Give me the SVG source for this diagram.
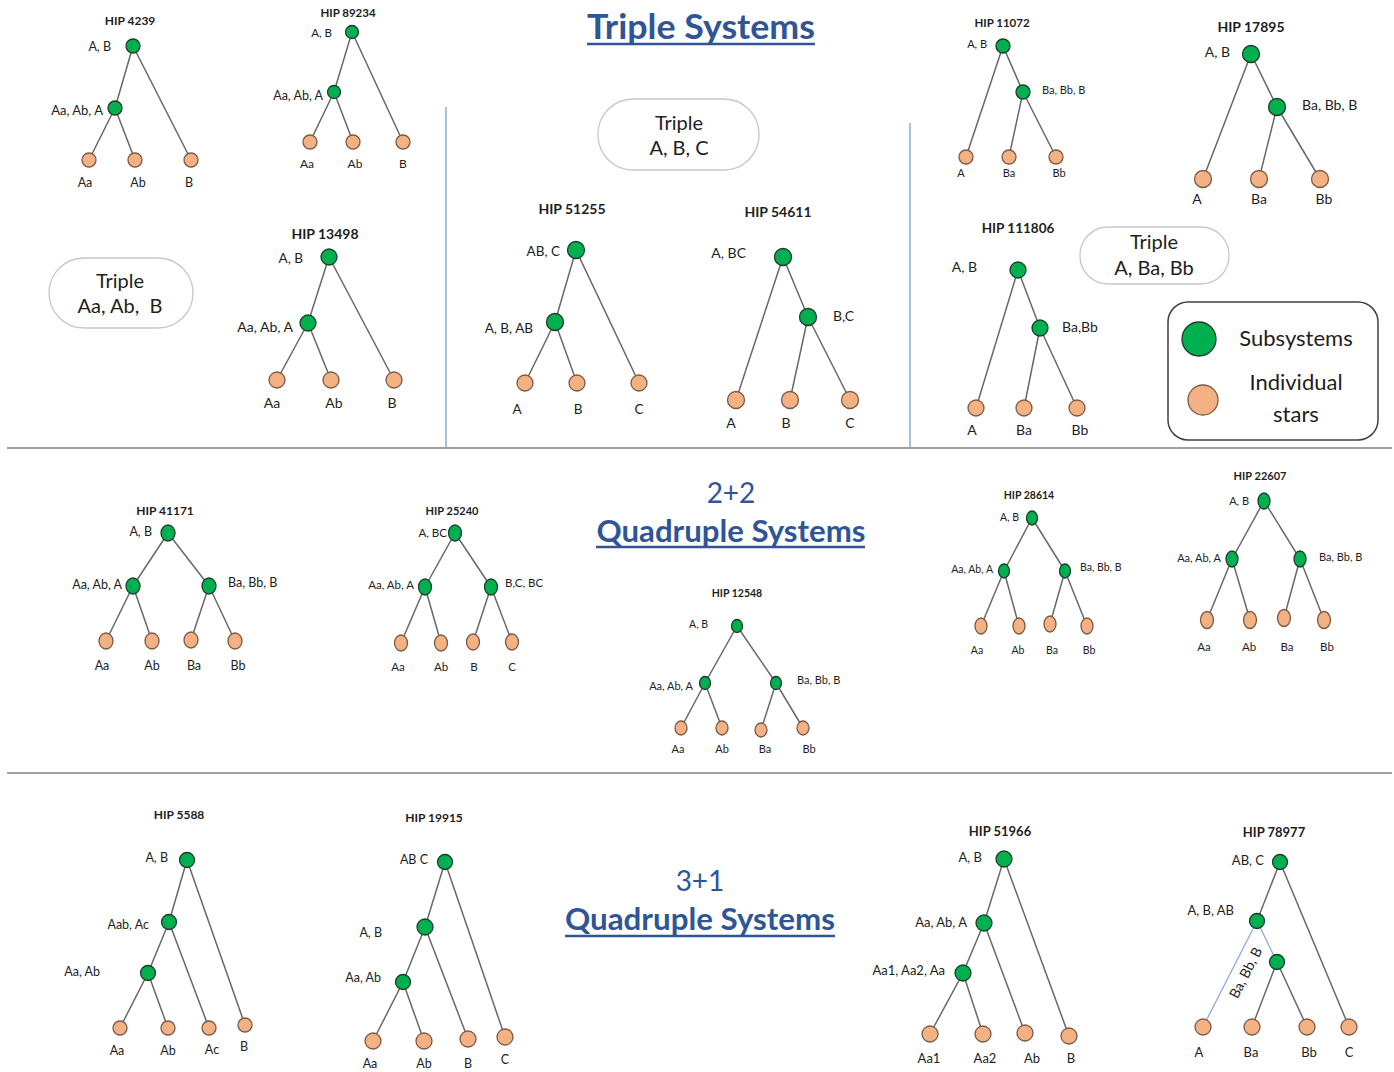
<svg xmlns="http://www.w3.org/2000/svg" width="1394" height="1072" viewBox="0 0 1394 1072">
<style>
text{font-family:Lato,"Liberation Sans",sans-serif;fill:#1e1e1e}
.h{font-weight:bold}
.e{text-anchor:end}
.m{text-anchor:middle}
.ln{stroke:#686868;stroke-width:1.5;fill:none}
.lb{stroke:#8faadc;stroke-width:1.3;fill:none}
.g{fill:#00b050;stroke:#1e3d28;stroke-width:1.3}
.o{fill:#f4b183;stroke:#7a5a46;stroke-width:1.3}
.box{fill:#fff;stroke:#c8c8c8;stroke-width:1.3}
.ttl{fill:#2f5597}
.sep{stroke:#7f7f7f;stroke-width:1.5}
.vs{stroke:#8faadc;stroke-width:1.5}
</style>
<rect width="1394" height="1072" fill="#fff"/>

<g id="frame">
<line class="sep" x1="7" y1="448" x2="1392" y2="448"/>
<line class="sep" x1="7" y1="773" x2="1392" y2="773"/>
<line class="vs" x1="446" y1="107" x2="446" y2="447"/>
<line class="vs" x1="910" y1="123" x2="910" y2="447"/>
</g>

<g id="titles">
<text class="h m ttl" x="701" y="39" font-size="35" textLength="228" lengthAdjust="spacingAndGlyphs">Triple Systems</text>
<line x1="587" y1="44" x2="815" y2="44" stroke="#2f5597" stroke-width="2.5"/>
<text class="m ttl" x="731" y="503" font-size="28">2+2</text>
<text class="h m ttl" x="731" y="542" font-size="30" textLength="269" lengthAdjust="spacingAndGlyphs">Quadruple Systems</text>
<line x1="596" y1="547" x2="865" y2="547" stroke="#2f5597" stroke-width="2.5"/>
<text class="m ttl" x="700" y="891" font-size="28">3+1</text>
<text class="h m ttl" x="700" y="930" font-size="30" textLength="270" lengthAdjust="spacingAndGlyphs">Quadruple Systems</text>
<line x1="565" y1="936" x2="835" y2="936" stroke="#2f5597" stroke-width="2.5"/>
</g>

<g id="triple-boxes">
<g id="box-aaabb"><rect class="box" x="49" y="258" width="144" height="70" rx="35"/>
<text class="m" x="120" y="288" font-size="20">Triple</text>
<text class="m" x="120" y="313" font-size="20" style="white-space:pre">Aa, Ab,  B</text></g>
<g id="box-abc"><rect class="box" x="598" y="99" width="161" height="71" rx="35"/>
<text class="m" x="679" y="130" font-size="20">Triple</text>
<text class="m" x="679" y="155" font-size="20">A, B, C</text></g>
<g id="box-abaab"><rect class="box" x="1080" y="227" width="149" height="57" rx="28"/>
<text class="m" x="1154" y="249" font-size="20">Triple</text>
<text class="m" x="1154" y="275" font-size="20">A, Ba, Bb</text></g>
</g>

<g id="legend">
<rect x="1168" y="302" width="210" height="138" rx="20" fill="#fff" stroke="#404040" stroke-width="1.5"/>
<circle class="g" cx="1199" cy="339" r="17"/>
<text class="m" x="1296" y="346" font-size="22">Subsystems</text>
<circle class="o" cx="1203" cy="400" r="15"/>
<text class="m" x="1296" y="390" font-size="22">Individual</text>
<text class="m" x="1296" y="422" font-size="22">stars</text>
</g>

<g id="connectors">
<path class="ln" d="M133 46L115 108M133 46L191 160M115 108L89 160M115 108L135 160"/>
<path class="ln" d="M352 32L334 92M352 32L403 142M334 92L310 142M334 92L353 142"/>
<path class="ln" d="M329 257L308 323M329 257L394 380M308 323L277 380M308 323L331 380"/>
<path class="ln" d="M576 250L555 322M576 250L639 383M555 322L525 383M555 322L577 383"/>
<path class="ln" d="M783 257L736 400M783 257L808 317M808 317L790 400M808 317L850 400"/>
<path class="ln" d="M1003 46L966 157M1003 46L1023 92M1023 92L1009 157M1023 92L1056 157"/>
<path class="ln" d="M1251 54L1203 179M1251 54L1277 107M1277 107L1259 179M1277 107L1320 179"/>
<path class="ln" d="M1018 270L976 408M1018 270L1040 328M1040 328L1024 408M1040 328L1077 408"/>
<path class="ln" d="M168 533L133 586M168 533L209 586M133 586L106 641M133 586L152 641M209 586L191 640M209 586L235 641"/>
<path class="ln" d="M455 533L425 587M455 533L491 587M425 587L401 643M425 587L441 643M491 587L473 642M491 587L512 642"/>
<path class="ln" d="M737 626L705 683M737 626L776 683M705 683L681 728M705 683L722 728M776 683L761 730M776 683L803 728"/>
<path class="ln" d="M1032 518L1004 571M1032 518L1065 571M1004 571L981 626M1004 571L1019 626M1065 571L1050 624M1065 571L1087 626"/>
<path class="ln" d="M1264 501L1232 559M1264 501L1300 559M1232 559L1207 620M1232 559L1250 620M1300 559L1284 618M1300 559L1324 620"/>
<path class="ln" d="M187 860L169 922M187 860L245 1025M169 922L148 973M169 922L209 1028M148 973L120 1028M148 973L168 1028"/>
<path class="ln" d="M445 862L425 927M445 862L505 1037M425 927L403 982M425 927L468 1039M403 982L373 1041M403 982L424 1041"/>
<path class="ln" d="M1004 859L984 923M1004 859L1069 1036M984 923L963 973M984 923L1025 1033M963 973L930 1034M963 973L983 1034"/>
<path class="ln" d="M1280 862L1257 921M1280 862L1349 1027M1277 962L1252 1027M1277 962L1307 1027"/>
<path class="lb" d="M1257 921L1203 1027M1257 921L1277 962"/>
</g>

<g id="hip4239">
<text class="h m" x="130" y="25" font-size="12">HIP 4239</text>
<g id="hip4239-ab"><circle class="g" cx="133" cy="46" r="7"/><text class="e" x="111" y="51" font-size="12.5">A, B</text></g>
<g id="hip4239-a"><circle class="g" cx="115" cy="108" r="7"/><text class="e" x="103" y="115" font-size="13">Aa, Ab, A</text></g>
<g id="hip4239-aa"><circle class="o" cx="89" cy="160" r="7"/><text class="m" x="85" y="187" font-size="12.5">Aa</text></g>
<g id="hip4239-ab2"><circle class="o" cx="135" cy="160" r="7"/><text class="m" x="138" y="187" font-size="12.5">Ab</text></g>
<g id="hip4239-b"><circle class="o" cx="191" cy="160" r="7"/><text class="m" x="189" y="187" font-size="12.5">B</text></g>
</g>

<g id="hip89234">
<text class="h m" x="348" y="17" font-size="11.5">HIP 89234</text>
<g id="hip89234-ab"><circle class="g" cx="352" cy="32" r="6.5"/><text class="e" x="332" y="37" font-size="11.5">A, B</text></g>
<g id="hip89234-a"><circle class="g" cx="334" cy="92" r="6.5"/><text class="e" x="323" y="100" font-size="12.5">Aa, Ab, A</text></g>
<g id="hip89234-aa"><circle class="o" cx="310" cy="142" r="7"/><text class="m" x="307" y="168" font-size="12">Aa</text></g>
<g id="hip89234-ab2"><circle class="o" cx="353" cy="142" r="7"/><text class="m" x="355" y="168" font-size="12">Ab</text></g>
<g id="hip89234-b"><circle class="o" cx="403" cy="142" r="7"/><text class="m" x="403" y="168" font-size="12">B</text></g>
</g>

<g id="hip13498">
<text class="h m" x="325" y="239" font-size="14">HIP 13498</text>
<g id="hip13498-ab"><circle class="g" cx="329" cy="257" r="8"/><text class="e" x="303" y="263" font-size="13.5">A, B</text></g>
<g id="hip13498-a"><circle class="g" cx="308" cy="323" r="8"/><text class="e" x="293" y="332" font-size="14">Aa, Ab, A</text></g>
<g id="hip13498-aa"><circle class="o" cx="277" cy="380" r="8"/><text class="m" x="272" y="408" font-size="14">Aa</text></g>
<g id="hip13498-ab2"><circle class="o" cx="331" cy="380" r="8"/><text class="m" x="334" y="408" font-size="14">Ab</text></g>
<g id="hip13498-b"><circle class="o" cx="394" cy="380" r="8"/><text class="m" x="392" y="408" font-size="14">B</text></g>
</g>

<g id="hip51255">
<text class="h m" x="572" y="214" font-size="14">HIP 51255</text>
<g id="hip51255-abc"><circle class="g" cx="576" cy="250" r="8.5"/><text class="e" x="560" y="256" font-size="13.5">AB, C</text></g>
<g id="hip51255-ab"><circle class="g" cx="555" cy="322" r="8.5"/><text class="e" x="533" y="333" font-size="13.5">A, B, AB</text></g>
<g id="hip51255-a"><circle class="o" cx="525" cy="383" r="8"/><text class="m" x="517" y="414" font-size="13.5">A</text></g>
<g id="hip51255-b"><circle class="o" cx="577" cy="383" r="8"/><text class="m" x="578" y="414" font-size="13.5">B</text></g>
<g id="hip51255-c"><circle class="o" cx="639" cy="383" r="8"/><text class="m" x="639" y="414" font-size="13.5">C</text></g>
</g>

<g id="hip54611">
<text class="h m" x="778" y="217" font-size="14">HIP 54611</text>
<g id="hip54611-abc"><circle class="g" cx="783" cy="257" r="8.5"/><text class="e" x="746" y="258" font-size="14">A, BC</text></g>
<g id="hip54611-bc"><circle class="g" cx="808" cy="317" r="8.5"/><text x="833" y="321" font-size="14">B,C</text></g>
<g id="hip54611-a"><circle class="o" cx="736" cy="400" r="8.5"/><text class="m" x="731" y="428" font-size="14">A</text></g>
<g id="hip54611-b"><circle class="o" cx="790" cy="400" r="8.5"/><text class="m" x="786" y="428" font-size="14">B</text></g>
<g id="hip54611-c"><circle class="o" cx="850" cy="400" r="8.5"/><text class="m" x="850" y="428" font-size="14">C</text></g>
</g>

<g id="hip11072">
<text class="h m" x="1002" y="27" font-size="11.5">HIP 11072</text>
<g id="hip11072-ab"><circle class="g" cx="1003" cy="46" r="7"/><text class="e" x="987" y="48" font-size="11">A, B</text></g>
<g id="hip11072-b"><circle class="g" cx="1023" cy="92" r="7"/><text x="1042" y="94" font-size="11">Ba, Bb, B</text></g>
<g id="hip11072-a"><circle class="o" cx="966" cy="157" r="7"/><text class="m" x="961" y="177" font-size="11">A</text></g>
<g id="hip11072-ba"><circle class="o" cx="1009" cy="157" r="7"/><text class="m" x="1009" y="177" font-size="11">Ba</text></g>
<g id="hip11072-bb"><circle class="o" cx="1056" cy="157" r="7"/><text class="m" x="1059" y="177" font-size="11">Bb</text></g>
</g>

<g id="hip17895">
<text class="h m" x="1251" y="32" font-size="14">HIP 17895</text>
<g id="hip17895-ab"><circle class="g" cx="1251" cy="54" r="8.5"/><text class="e" x="1230" y="57" font-size="14">A, B</text></g>
<g id="hip17895-b"><circle class="g" cx="1277" cy="107" r="8.5"/><text x="1302" y="110" font-size="14">Ba, Bb, B</text></g>
<g id="hip17895-a"><circle class="o" cx="1203" cy="179" r="8.5"/><text class="m" x="1197" y="204" font-size="14">A</text></g>
<g id="hip17895-ba"><circle class="o" cx="1259" cy="179" r="8.5"/><text class="m" x="1259" y="204" font-size="14">Ba</text></g>
<g id="hip17895-bb"><circle class="o" cx="1320" cy="179" r="8.5"/><text class="m" x="1324" y="204" font-size="14">Bb</text></g>
</g>

<g id="hip111806">
<text class="h m" x="1018" y="233" font-size="13.5">HIP 111806</text>
<g id="hip111806-ab"><circle class="g" cx="1018" cy="270" r="8"/><text class="e" x="977" y="272" font-size="14">A, B</text></g>
<g id="hip111806-b"><circle class="g" cx="1040" cy="328" r="8"/><text x="1062" y="332" font-size="14">Ba,Bb</text></g>
<g id="hip111806-a"><circle class="o" cx="976" cy="408" r="8"/><text class="m" x="972" y="435" font-size="14">A</text></g>
<g id="hip111806-ba"><circle class="o" cx="1024" cy="408" r="8"/><text class="m" x="1024" y="435" font-size="14">Ba</text></g>
<g id="hip111806-bb"><circle class="o" cx="1077" cy="408" r="8"/><text class="m" x="1080" y="435" font-size="14">Bb</text></g>
</g>

<g id="hip41171">
<text class="h m" x="165" y="515" font-size="12">HIP 41171</text>
<g id="hip41171-ab"><ellipse class="g" cx="168" cy="533" rx="7" ry="8"/><text class="e" x="152" y="536" font-size="12.5">A, B</text></g>
<g id="hip41171-a"><ellipse class="g" cx="133" cy="586" rx="7" ry="8"/><text class="e" x="122" y="589" font-size="12.5">Aa, Ab, A</text></g>
<g id="hip41171-b"><ellipse class="g" cx="209" cy="586" rx="7" ry="8"/><text x="228" y="587" font-size="12.5">Ba, Bb, B</text></g>
<g id="hip41171-aa"><ellipse class="o" cx="106" cy="641" rx="7" ry="8"/><text class="m" x="102" y="670" font-size="12.5">Aa</text></g>
<g id="hip41171-ab2"><ellipse class="o" cx="152" cy="641" rx="7" ry="8"/><text class="m" x="152" y="670" font-size="12.5">Ab</text></g>
<g id="hip41171-ba"><ellipse class="o" cx="191" cy="640" rx="7" ry="8"/><text class="m" x="194" y="670" font-size="12.5">Ba</text></g>
<g id="hip41171-bb"><ellipse class="o" cx="235" cy="641" rx="7" ry="8"/><text class="m" x="238" y="670" font-size="12.5">Bb</text></g>
</g>

<g id="hip25240">
<text class="h m" x="452" y="515" font-size="11">HIP 25240</text>
<g id="hip25240-abc"><ellipse class="g" cx="455" cy="533" rx="6.5" ry="8"/><text class="e" x="447" y="537" font-size="11.5">A, BC</text></g>
<g id="hip25240-a"><ellipse class="g" cx="425" cy="587" rx="6.5" ry="8"/><text class="e" x="414" y="589" font-size="11.5">Aa, Ab, A</text></g>
<g id="hip25240-bc"><ellipse class="g" cx="491" cy="587" rx="6.5" ry="8"/><text x="505" y="587" font-size="11.5">B,C, BC</text></g>
<g id="hip25240-aa"><ellipse class="o" cx="401" cy="643" rx="6.5" ry="8"/><text class="m" x="398" y="671" font-size="11.5">Aa</text></g>
<g id="hip25240-ab"><ellipse class="o" cx="441" cy="643" rx="6.5" ry="8"/><text class="m" x="441" y="671" font-size="11.5">Ab</text></g>
<g id="hip25240-b"><ellipse class="o" cx="473" cy="642" rx="6.5" ry="8"/><text class="m" x="474" y="671" font-size="11.5">B</text></g>
<g id="hip25240-c"><ellipse class="o" cx="512" cy="642" rx="6.5" ry="8"/><text class="m" x="512" y="671" font-size="11.5">C</text></g>
</g>

<g id="hip12548">
<text class="h m" x="737" y="597" font-size="10.5">HIP 12548</text>
<g id="hip12548-ab"><ellipse class="g" cx="737" cy="626" rx="5.5" ry="6.5"/><text class="e" x="708" y="628" font-size="10.5">A, B</text></g>
<g id="hip12548-a"><ellipse class="g" cx="705" cy="683" rx="5.5" ry="6.5"/><text class="e" x="693" y="690" font-size="11">Aa, Ab, A</text></g>
<g id="hip12548-b"><ellipse class="g" cx="776" cy="683" rx="5.5" ry="6.5"/><text x="797" y="684" font-size="11">Ba, Bb, B</text></g>
<g id="hip12548-aa"><ellipse class="o" cx="681" cy="728" rx="6" ry="7"/><text class="m" x="678" y="753" font-size="11">Aa</text></g>
<g id="hip12548-ab2"><ellipse class="o" cx="722" cy="728" rx="6" ry="7"/><text class="m" x="722" y="753" font-size="11">Ab</text></g>
<g id="hip12548-ba"><ellipse class="o" cx="761" cy="730" rx="6" ry="7"/><text class="m" x="765" y="753" font-size="11">Ba</text></g>
<g id="hip12548-bb"><ellipse class="o" cx="803" cy="728" rx="6" ry="7"/><text class="m" x="809" y="753" font-size="11">Bb</text></g>
</g>

<g id="hip28614">
<text class="h m" x="1029" y="499" font-size="10.5">HIP 28614</text>
<g id="hip28614-ab"><ellipse class="g" cx="1032" cy="518" rx="5.5" ry="7"/><text class="e" x="1019" y="521" font-size="10.5">A, B</text></g>
<g id="hip28614-a"><ellipse class="g" cx="1004" cy="571" rx="5.5" ry="7"/><text class="e" x="993" y="573" font-size="10.5">Aa, Ab, A</text></g>
<g id="hip28614-b"><ellipse class="g" cx="1065" cy="571" rx="5.5" ry="7"/><text x="1080" y="571" font-size="10.5">Ba, Bb, B</text></g>
<g id="hip28614-aa"><ellipse class="o" cx="981" cy="626" rx="6" ry="8"/><text class="m" x="977" y="654" font-size="10.5">Aa</text></g>
<g id="hip28614-ab2"><ellipse class="o" cx="1019" cy="626" rx="6" ry="8"/><text class="m" x="1018" y="654" font-size="10.5">Ab</text></g>
<g id="hip28614-ba"><ellipse class="o" cx="1050" cy="624" rx="6" ry="8"/><text class="m" x="1052" y="654" font-size="10.5">Ba</text></g>
<g id="hip28614-bb"><ellipse class="o" cx="1087" cy="626" rx="6" ry="8"/><text class="m" x="1089" y="654" font-size="10.5">Bb</text></g>
</g>

<g id="hip22607">
<text class="h m" x="1260" y="480" font-size="11">HIP 22607</text>
<g id="hip22607-ab"><ellipse class="g" cx="1264" cy="501" rx="6" ry="8"/><text class="e" x="1249" y="505" font-size="11">A, B</text></g>
<g id="hip22607-a"><ellipse class="g" cx="1232" cy="559" rx="6" ry="8"/><text class="e" x="1221" y="562" font-size="11">Aa, Ab, A</text></g>
<g id="hip22607-b"><ellipse class="g" cx="1300" cy="559" rx="6" ry="8"/><text x="1319" y="561" font-size="11">Ba, Bb, B</text></g>
<g id="hip22607-aa"><ellipse class="o" cx="1207" cy="620" rx="6.5" ry="8.5"/><text class="m" x="1204" y="651" font-size="11.5">Aa</text></g>
<g id="hip22607-ab2"><ellipse class="o" cx="1250" cy="620" rx="6.5" ry="8.5"/><text class="m" x="1249" y="651" font-size="11.5">Ab</text></g>
<g id="hip22607-ba"><ellipse class="o" cx="1284" cy="618" rx="6.5" ry="8.5"/><text class="m" x="1287" y="651" font-size="11.5">Ba</text></g>
<g id="hip22607-bb"><ellipse class="o" cx="1324" cy="620" rx="6.5" ry="8.5"/><text class="m" x="1327" y="651" font-size="11.5">Bb</text></g>
</g>

<g id="hip5588">
<text class="h m" x="179" y="819" font-size="12">HIP 5588</text>
<g id="hip5588-ab"><circle class="g" cx="187" cy="860" r="7.5"/><text class="e" x="168" y="862" font-size="12.5">A, B</text></g>
<g id="hip5588-aabac"><circle class="g" cx="169" cy="922" r="7.5"/><text class="e" x="149" y="929" font-size="12.5">Aab, Ac</text></g>
<g id="hip5588-aaab"><circle class="g" cx="148" cy="973" r="7.5"/><text class="e" x="100" y="976" font-size="12.5">Aa, Ab</text></g>
<g id="hip5588-aa"><circle class="o" cx="120" cy="1028" r="7"/><text class="m" x="117" y="1055" font-size="12.5">Aa</text></g>
<g id="hip5588-ab2"><circle class="o" cx="168" cy="1028" r="7"/><text class="m" x="168" y="1055" font-size="12.5">Ab</text></g>
<g id="hip5588-ac"><circle class="o" cx="209" cy="1028" r="7"/><text class="m" x="212" y="1054" font-size="12.5">Ac</text></g>
<g id="hip5588-b"><circle class="o" cx="245" cy="1025" r="7"/><text class="m" x="244" y="1051" font-size="12.5">B</text></g>
</g>

<g id="hip19915">
<text class="h m" x="434" y="822" font-size="12">HIP 19915</text>
<g id="hip19915-abc"><circle class="g" cx="445" cy="862" r="7.5"/><text class="e" x="428" y="864" font-size="12.5">AB C</text></g>
<g id="hip19915-ab"><circle class="g" cx="425" cy="927" r="8"/><text class="e" x="382" y="937" font-size="12.5">A, B</text></g>
<g id="hip19915-aaab"><circle class="g" cx="403" cy="982" r="7.5"/><text class="e" x="381" y="982" font-size="12.5">Aa, Ab</text></g>
<g id="hip19915-aa"><circle class="o" cx="373" cy="1041" r="8"/><text class="m" x="370" y="1068" font-size="12.5">Aa</text></g>
<g id="hip19915-ab2"><circle class="o" cx="424" cy="1041" r="8"/><text class="m" x="424" y="1068" font-size="12.5">Ab</text></g>
<g id="hip19915-b"><circle class="o" cx="468" cy="1039" r="8"/><text class="m" x="468" y="1068" font-size="12.5">B</text></g>
<g id="hip19915-c"><circle class="o" cx="505" cy="1037" r="8"/><text class="m" x="505" y="1064" font-size="12.5">C</text></g>
</g>

<g id="hip51966">
<text class="h m" x="1000" y="836" font-size="13">HIP 51966</text>
<g id="hip51966-ab"><circle class="g" cx="1004" cy="859" r="8"/><text class="e" x="982" y="862" font-size="13">A, B</text></g>
<g id="hip51966-a"><circle class="g" cx="984" cy="923" r="8"/><text class="e" x="967" y="927" font-size="13">Aa, Ab, A</text></g>
<g id="hip51966-aa"><circle class="g" cx="963" cy="973" r="8"/><text class="e" x="945" y="975" font-size="13">Aa1, Aa2, Aa</text></g>
<g id="hip51966-aa1"><circle class="o" cx="930" cy="1034" r="8"/><text class="m" x="929" y="1063" font-size="13">Aa1</text></g>
<g id="hip51966-aa2"><circle class="o" cx="983" cy="1034" r="8"/><text class="m" x="985" y="1063" font-size="13">Aa2</text></g>
<g id="hip51966-ab2"><circle class="o" cx="1025" cy="1033" r="8"/><text class="m" x="1032" y="1063" font-size="13">Ab</text></g>
<g id="hip51966-b"><circle class="o" cx="1069" cy="1036" r="8"/><text class="m" x="1071" y="1063" font-size="13">B</text></g>
</g>

<g id="hip78977">
<text class="h m" x="1274" y="837" font-size="13">HIP 78977</text>
<g id="hip78977-abc"><circle class="g" cx="1280" cy="862" r="7.5"/><text class="e" x="1264" y="865" font-size="13">AB, C</text></g>
<g id="hip78977-ab"><circle class="g" cx="1257" cy="921" r="7.5"/><text class="e" x="1234" y="915" font-size="13">A, B, AB</text></g>
<g id="hip78977-b"><circle class="g" cx="1277" cy="962" r="7.5"/><text class="m" x="0" y="0" font-size="14" transform="translate(1250,975) rotate(-63)">Ba, Bb, B</text></g>
<g id="hip78977-a"><circle class="o" cx="1203" cy="1027" r="8"/><text class="m" x="1199" y="1057" font-size="13">A</text></g>
<g id="hip78977-ba"><circle class="o" cx="1252" cy="1027" r="8"/><text class="m" x="1251" y="1057" font-size="13">Ba</text></g>
<g id="hip78977-bb"><circle class="o" cx="1307" cy="1027" r="8"/><text class="m" x="1309" y="1057" font-size="13">Bb</text></g>
<g id="hip78977-c"><circle class="o" cx="1349" cy="1027" r="8"/><text class="m" x="1349" y="1057" font-size="13">C</text></g>
</g>
</svg>
